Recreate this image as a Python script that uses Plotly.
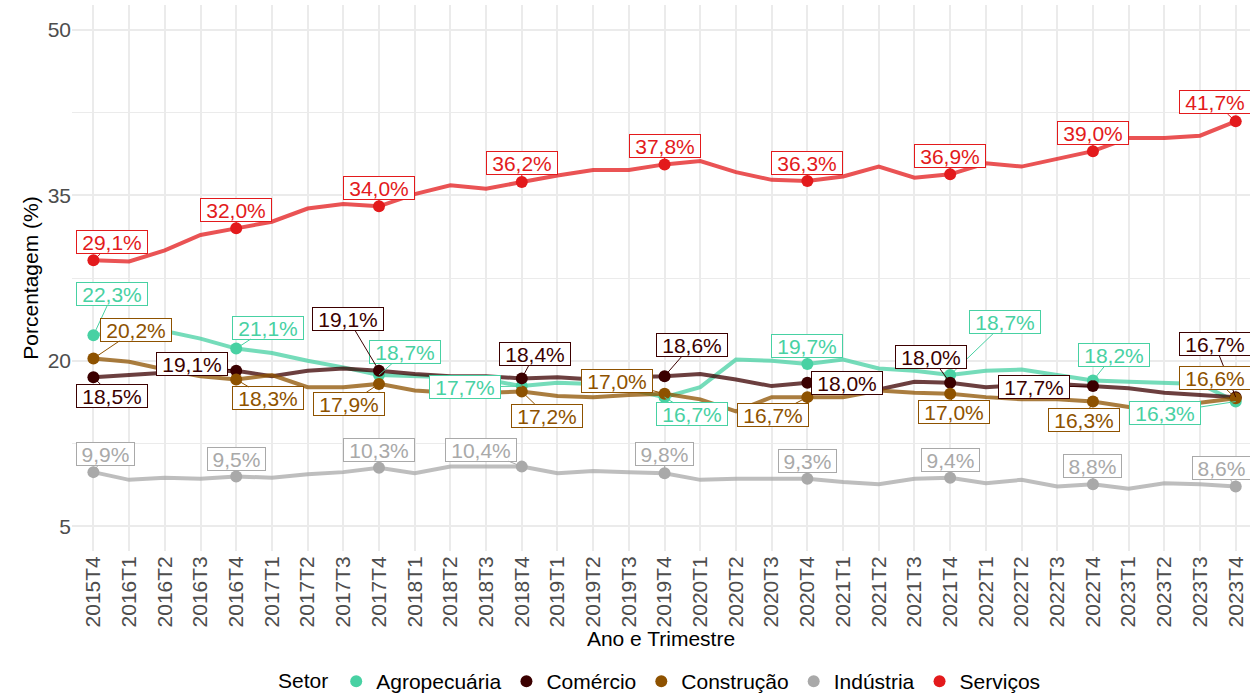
import plotly.graph_objects as go

quarters = ['2015T4', '2016T1', '2016T2', '2016T3', '2016T4', '2017T1', '2017T2', '2017T3', '2017T4',
            '2018T1', '2018T2', '2018T3', '2018T4', '2019T1', '2019T2', '2019T3', '2019T4',
            '2020T1', '2020T2', '2020T3', '2020T4', '2021T1', '2021T2', '2021T3', '2021T4',
            '2022T1', '2022T2', '2022T3', '2022T4', '2023T1', '2023T2', '2023T3', '2023T4']

agropecuaria = [22.3, 22.8, 22.7, 22.0, 21.1, 20.7, 20.0, 19.4, 18.7,
                18.6, 18.5, 18.3, 17.7, 18.0, 17.9, 17.4, 16.7,
                17.6, 20.1, 20.0, 19.7, 20.1, 19.3, 19.1, 18.7,
                19.1, 19.2, 18.7, 18.2, 18.1, 18.0, 17.9, 16.3]

comercio = [18.5, 18.7, 18.9, 19.0, 19.1, 18.6, 19.1, 19.3, 19.1,
            18.8, 18.6, 18.6, 18.4, 18.5, 18.3, 18.5, 18.6,
            18.8, 18.3, 17.7, 18.0, 17.8, 17.4, 18.1, 18.0,
            17.6, 17.8, 17.9, 17.7, 17.5, 17.1, 16.9, 16.7]

construcao = [20.2, 19.9, 19.2, 18.6, 18.3, 18.7, 17.6, 17.6, 17.9,
              17.3, 17.1, 17.1, 17.2, 16.8, 16.7, 16.9, 17.0,
              16.5, 15.4, 16.7, 16.7, 16.7, 17.3, 17.1, 17.0,
              16.7, 16.5, 16.5, 16.3, 15.8, 15.9, 16.2, 16.6]

industria = [9.9, 9.2, 9.4, 9.3, 9.5, 9.4, 9.7, 9.9, 10.3,
             9.8, 10.4, 10.4, 10.4, 9.8, 10.0, 9.9, 9.8,
             9.2, 9.3, 9.3, 9.3, 9.0, 8.8, 9.3, 9.4,
             8.9, 9.2, 8.6, 8.8, 8.4, 8.9, 8.8, 8.6]

servicos = [29.1, 29.0, 30.0, 31.4, 32.0, 32.6, 33.8, 34.2, 34.0,
            35.1, 35.9, 35.6, 36.2, 36.8, 37.3, 37.3, 37.8,
            38.1, 37.1, 36.4, 36.3, 36.7, 37.6, 36.6, 36.9,
            37.9, 37.6, 38.3, 39.0, 40.2, 40.2, 40.4, 41.7]

sector_names = ['Agropecuária', 'Comércio', 'Construção', 'Indústria', 'Serviços']
sector_values = [agropecuaria, comercio, construcao, industria, servicos]

# styles
colors = ['#48D1A3', '#3B0000', '#8E5200', '#A9A9A9', '#E31A1C']

# label offsets (pixels) for the T4 points, per sector
label_offsets = [
    [(19, -41), (32, -21), (26, -23), (-57, 1), (27, 17), (0, -18), (55, -53), (21, -26), (-71, 11)],
    [(19, 19), (-44, -7), (-31, -52), (13, -24), (27, -31), (40, 0), (-19, -26), (-59, 1), (-21, -53)],
    [(43, -29), (32, 19), (-30, 20), (25, 24), (-48, -13), (-34, 18), (4, 18), (-9, 18), (-21, -20)],
    [(12, -18), (0, -18), (0, -18), (-41, -17), (0, -19), (0, -18), (0, -18), (0, -18), (-14, -18)],
    [(19, -18), (0, -18), (0, -18), (0, -19), (0, -18), (0, -18), (0, -18), (0, -18), (-21, -19)],
]

FONT = 'Liberation Sans, Arial, sans-serif'

fig = go.Figure()

# lines
for name, vals, col in zip(sector_names, sector_values, colors):
    fig.add_trace(go.Scatter(
        x=quarters, y=vals, mode='lines', name=name,
        line=dict(color=col, width=4), opacity=0.75,
        showlegend=False, hoverinfo='skip'))

# points at T4
t4_idx = [i for i, q in enumerate(quarters) if q.endswith('T4')]
for name, vals, col in zip(sector_names, sector_values, colors):
    fig.add_trace(go.Scatter(
        x=[quarters[i] for i in t4_idx], y=[vals[i] for i in t4_idx],
        mode='markers', name=name, cliponaxis=False,
        marker=dict(color=col, size=12)))

# labels
annotations = []
for s, (vals, col) in enumerate(zip(sector_values, colors)):
    for k, i in enumerate(t4_idx):
        v = vals[i]
        txt = f"{v:.1f}".replace('.', ',') + '%'
        ax, ay = label_offsets[s][k]
        annotations.append(dict(
            x=quarters[i], y=v, xref='x', yref='y', text=txt,
            showarrow=True, arrowhead=0, arrowwidth=1, arrowcolor=col,
            ax=ax, ay=ay, standoff=0,
            font=dict(family=FONT, size=21, color=col),
            bgcolor='white', bordercolor=col, borderwidth=1, borderpad=0,
            width=70 if v >= 10 else 57, height=22,
            xanchor='center', yanchor='middle'))

fig.update_layout(
    width=1250, height=695,
    margin=dict(l=72, r=0, t=5, b=144, autoexpand=False),
    plot_bgcolor='white', paper_bgcolor='white',
    font=dict(family=FONT, size=21, color='black'),
    annotations=annotations,
    legend=dict(
        orientation='h', x=0.5, xanchor='center', y=-0.239, yanchor='middle',
        title=dict(text='Setor', side='left', font=dict(size=21)),
        font=dict(size=21, color='black'), itemwidth=30,
        bgcolor='rgba(0,0,0,0)'),
    xaxis=dict(
        type='category', categoryorder='array', categoryarray=quarters,
        range=[-0.6, 32.4], tickangle=-90, automargin=False,
        showgrid=True, gridcolor='#EBEBEB', gridwidth=1.5,
        zeroline=False, showline=False, ticks='',
        tickfont=dict(size=21, color='#4D4D4D', family=FONT),
        title=dict(text='Ano e Trimestre', standoff=2, font=dict(size=21, color='black'))),
    yaxis=dict(
        range=[2.75, 52.25], tickvals=[5, 20, 35, 50], automargin=False,
        showgrid=True, gridcolor='#EBEBEB', gridwidth=1.5,
        zeroline=False, showline=False, ticks='',
        tickfont=dict(size=21, color='#4D4D4D', family=FONT),
        minor=dict(tickvals=[12.5, 27.5, 42.5], showgrid=True, gridcolor='#EBEBEB', gridwidth=0.8),
        title=dict(text='Porcentagem (%)', standoff=3, font=dict(size=21, color='black'))),
)

fig.write_html('out.html', config={'displayModeBar': False},
               post_script="document.body.style.margin='0px';document.body.style.overflow='hidden';")
